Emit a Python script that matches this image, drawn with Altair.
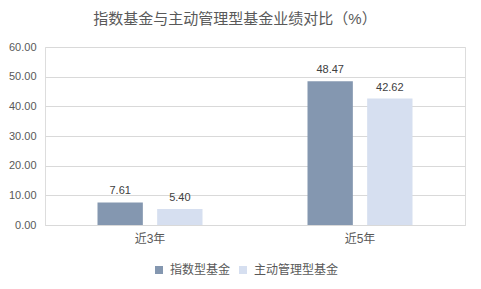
import altair as alt
import pandas as pd

categories = ["近3年", "近5年"]
series = ["指数型基金", "主动管理型基金"]
index_vals = [7.61, 48.47]
active_vals = [5.40, 42.62]
colors = ["#8497B0", "#D6DFF0"]

rows = []
for i, c in enumerate(categories):
    rows.append({"period": c, "type": series[0], "value": index_vals[i]})
    rows.append({"period": c, "type": series[1], "value": active_vals[i]})
df = pd.DataFrame(rows)

FONT = "Liberation Sans, Noto Sans CJK SC, sans-serif"
TXT = "#595959"

x = alt.X("period:N", sort=categories, title=None,
          scale=alt.Scale(paddingInner=0.5, paddingOuter=0.25),
          axis=alt.Axis(labelAngle=0, ticks=False, domainColor="#D9D9D9",
                        labelFontSize=12, labelColor=TXT, labelPadding=8,
                        labelFont=FONT))
xo = alt.XOffset("type:N", sort=series,
                 scale=alt.Scale(paddingInner=0.24, paddingOuter=0))
y = alt.Y("value:Q", title=None,
          scale=alt.Scale(domain=[0, 60], nice=False),
          axis=alt.Axis(values=[0, 10, 20, 30, 40, 50, 60], format=".2f",
                        domain=False, ticks=False, gridColor="#D9D9D9",
                        labelFontSize=11, labelColor=TXT, labelPadding=9,
                        labelFont=FONT))

bars = alt.Chart(df).mark_bar().encode(
    x=x, xOffset=xo, y=y,
    color=alt.Color("type:N", sort=series,
                    scale=alt.Scale(domain=series, range=colors),
                    legend=alt.Legend(title=None, orient="none", direction="horizontal",
                                      legendX=108, legendY=217,
                                      symbolType="square", symbolSize=64,
                                      symbolStrokeWidth=0,
                                      labelFontSize=12, labelColor=TXT,
                                      labelFont=FONT, labelOffset=5,
                                      columnPadding=6)),
)

labels = alt.Chart(df).mark_text(baseline="bottom", dy=-6, fontSize=11,
                                 color="#404040", font=FONT).encode(
    x=x, xOffset=xo, y=y,
    text=alt.Text("value:Q", format=".2f"),
)

chart = (bars + labels).properties(
    width=420, height=178,
    autosize=alt.AutoSizeParams(type="none"),
    padding={"left": 45, "top": 47, "right": 16, "bottom": 64},
    title=alt.TitleParams("指数基金与主动管理型基金业绩对比（%）", fontSize=15,
                          font=FONT, fontWeight="normal", color=TXT,
                          anchor="middle", dx=-20, offset=14),
).configure_view(stroke=None).configure(background="white")

chart.save("out.html", embed_options={"renderer": "svg", "actions": False})
